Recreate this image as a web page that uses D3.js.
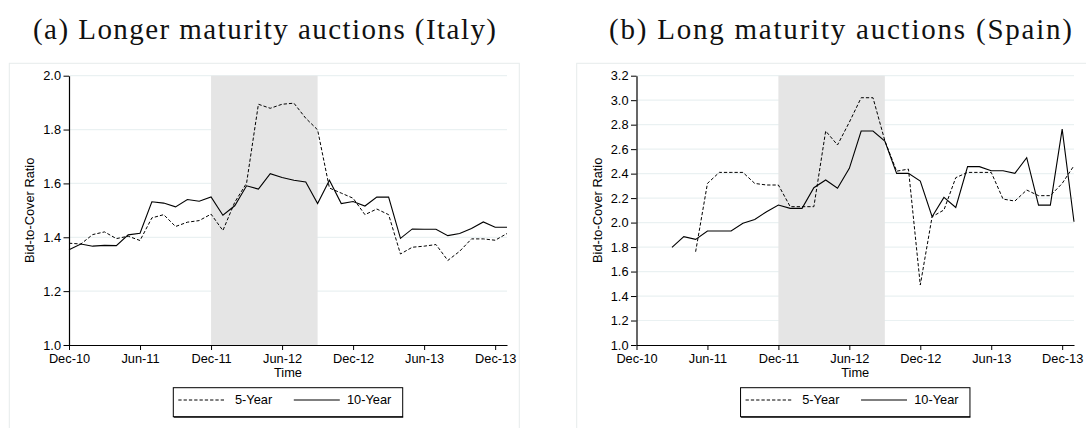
<!DOCTYPE html>
<html>
<head>
<meta charset="utf-8">
<script src="https://cdn.jsdelivr.net/npm/d3@7"></script>
<style>
    body { margin: 0; background: #fff; }
    text { font-family: "Liberation Sans", Arial, sans-serif; }
    .title { font-family: "Liberation Serif", "Times New Roman", serif; }
</style>
</head>
<body>
<svg id="chart" width="1086" height="428"></svg>
<script>
// months from Dec-10 to Jan-14
const months = [
    'Dec-10', 'Jan-11', 'Feb-11', 'Mar-11', 'Apr-11', 'May-11', 'Jun-11', 'Jul-11', 'Aug-11', 'Sep-11', 'Oct-11', 'Nov-11',
    'Dec-11', 'Jan-12', 'Feb-12', 'Mar-12', 'Apr-12', 'May-12', 'Jun-12', 'Jul-12', 'Aug-12', 'Sep-12', 'Oct-12', 'Nov-12',
    'Dec-12', 'Jan-13', 'Feb-13', 'Mar-13', 'Apr-13', 'May-13', 'Jun-13', 'Jul-13', 'Aug-13', 'Sep-13', 'Oct-13', 'Nov-13',
    'Dec-13', 'Jan-14'
];
const tickMonths = ['Dec-10', 'Jun-11', 'Dec-11', 'Jun-12', 'Dec-12', 'Jun-13', 'Dec-13'];
const shadedPeriod = ['Dec-11', 'Sep-12'];

const italy5y = [1.378, 1.375, 1.410, 1.420, 1.395, 1.404, 1.388, 1.472, 1.484, 1.440, 1.456, 1.462,
    1.486, 1.425, 1.530, 1.601, 1.894, 1.879, 1.894, 1.898, 1.842, 1.799, 1.583, 1.564,
    1.545, 1.484, 1.505, 1.484, 1.338, 1.363, 1.367, 1.373, 1.314, 1.348, 1.394, 1.394,
    1.389, 1.414];
const italy10y = [1.354, 1.375, 1.367, 1.370, 1.369, 1.409, 1.415, 1.532, 1.527, 1.513, 1.540, 1.534,
    1.550, 1.482, 1.517, 1.591, 1.579, 1.636, 1.622, 1.612, 1.605, 1.525, 1.612, 1.525,
    1.533, 1.516, 1.549, 1.549, 1.396, 1.431, 1.430, 1.430, 1.406, 1.414, 1.433, 1.457,
    1.437, 1.437];
const italyTicks = [1.0, 1.2, 1.4, 1.6, 1.8, 2.0];

const spain5y = [null, null, null, null, null, 1.762, 2.320, 2.410, 2.410, 2.410, 2.320, 2.307,
    2.307, 2.130, 2.130, 2.130, 2.748, 2.634, 2.820, 3.020, 3.020, 2.670, 2.420, 2.437,
    1.490, 2.048, 2.103, 2.367, 2.410, 2.410, 2.410, 2.192, 2.176, 2.266, 2.220, 2.220,
    2.320, 2.465];
const spain10y = [null, null, null, 1.797, 1.885, 1.863, 1.931, 1.931, 1.931, 1.994, 2.026, 2.089,
    2.143, 2.116, 2.116, 2.285, 2.348, 2.280, 2.443, 2.748, 2.748, 2.666, 2.402, 2.402,
    2.339, 2.048, 2.206, 2.124, 2.457, 2.457, 2.424, 2.424, 2.402, 2.530, 2.143, 2.143,
    2.764, 2.007];
const spainTicks = [1.0, 1.2, 1.4, 1.6, 1.8, 2.0, 2.2, 2.4, 2.6, 2.8, 3.0, 3.2];

const svg = d3.select('#chart');

function drawPanel(opts) {
    const { left, right, frameLeft, frameRight, title, titleX, series5, series10, ticks } = opts;
    const top = 75.7;
    const bottom = 345;

    svg.append('rect')
        .attr('x', frameLeft)
        .attr('y', 63.3)
        .attr('width', frameRight - frameLeft)
        .attr('height', 400)
        .attr('fill', 'none')
        .attr('stroke', '#e6ecec')
        .attr('stroke-width', 1);

    svg.append('text')
        .attr('class', 'title')
        .attr('x', titleX)
        .attr('y', 39)
        .attr('textLength', 463)
        .attr('lengthAdjust', 'spacing')
        .style('font-size', '29px')
        .style('fill', '#111')
        .text(title);

    const x = d3.scalePoint().domain(months).range([left, right]);
    const y = d3.scaleLinear().domain([ticks[0], ticks[ticks.length - 1]]).range([bottom, top]);

    // grid lines
    svg.append('g')
        .selectAll('line')
        .data(ticks.slice(1))
        .join('line')
        .attr('x1', left)
        .attr('x2', right)
        .attr('y1', d => y(d))
        .attr('y2', d => y(d))
        .attr('stroke', '#eaf1f2')
        .attr('stroke-width', 1.2);

    // shaded period
    svg.append('rect')
        .attr('x', x(shadedPeriod[0]))
        .attr('y', top)
        .attr('width', x(shadedPeriod[1]) - x(shadedPeriod[0]))
        .attr('height', bottom - top)
        .attr('fill', '#e5e5e5');

    const line = d3.line()
        .defined(d => d != null)
        .x((d, i) => x(months[i]))
        .y(d => y(d));

    svg.append('path')
        .datum(series5)
        .attr('d', line)
        .attr('fill', 'none')
        .attr('stroke', '#000')
        .attr('stroke-width', 1)
        .attr('stroke-dasharray', '3.3,2');

    svg.append('path')
        .datum(series10)
        .attr('d', line)
        .attr('fill', 'none')
        .attr('stroke', '#000')
        .attr('stroke-width', 1.1);

    const xAxis = svg.append('g')
        .attr('transform', `translate(0,${bottom})`)
        .call(d3.axisBottom(x).tickValues(tickMonths).tickSize(5).tickSizeOuter(0).tickPadding(4));
    const yAxis = svg.append('g')
        .attr('transform', `translate(${left},0)`)
        .call(d3.axisLeft(y).tickValues(ticks).tickFormat(d3.format('.1f')).tickSize(5.5).tickSizeOuter(0).tickPadding(2.5));
    [xAxis, yAxis].forEach(a => {
        a.selectAll('text').style('font-size', '12.8px').style('font-family', '"Liberation Sans", Arial, sans-serif').attr('fill', '#000');
        a.selectAll('line').attr('stroke', '#000');
        a.select('.domain').attr('stroke', '#000').attr('stroke-width', 1.2);
    });

    const cx = (left + right) / 2;
    svg.append('text')
        .attr('x', cx)
        .attr('y', 376.7)
        .attr('text-anchor', 'middle')
        .style('font-size', '12.8px')
        .text('Time');

    svg.append('text')
        .attr('transform', `translate(${left - 35},${(top + bottom) / 2}) rotate(-90)`)
        .attr('text-anchor', 'middle')
        .style('font-size', '12.8px')
        .text('Bid-to-Cover Ratio');

    // legend
    const lg = svg.append('g').attr('transform', `translate(${cx - 114.7},387.7)`);
    lg.append('rect')
        .attr('width', 229.4)
        .attr('height', 29)
        .attr('fill', '#fff')
        .attr('stroke', '#000')
        .attr('stroke-width', 1);
    lg.append('line')
        .attr('x1', 0.5).attr('x2', 229.9)
        .attr('y1', 29.5).attr('y2', 29.5)
        .attr('stroke', '#000').attr('stroke-width', 1);
    lg.append('line')
        .attr('x1', 5).attr('x2', 52.7)
        .attr('y1', 12.3).attr('y2', 12.3)
        .attr('stroke', '#000').attr('stroke-dasharray', '3.3,2');
    lg.append('text')
        .attr('x', 61.7).attr('y', 16.4)
        .style('font-size', '12.8px')
        .text('5-Year');
    lg.append('line')
        .attr('x1', 120.5).attr('x2', 166.5)
        .attr('y1', 12.3).attr('y2', 12.3)
        .attr('stroke', '#000').attr('stroke-width', 1.1);
    lg.append('text')
        .attr('x', 173.7).attr('y', 16.4)
        .style('font-size', '12.8px')
        .text('10-Year');
}

drawPanel({
    left: 69, right: 507, frameLeft: 9.3, frameRight: 519.3,
    title: '(a) Longer maturity auctions (Italy)', titleX: 33,
    series5: italy5y, series10: italy10y, ticks: italyTicks
});

drawPanel({
    left: 636.5, right: 1074, frameLeft: 576.7, frameRight: 1100,
    title: '(b) Long maturity auctions (Spain)', titleX: 609,
    series5: spain5y, series10: spain10y, ticks: spainTicks
});
</script>
</body>
</html>
